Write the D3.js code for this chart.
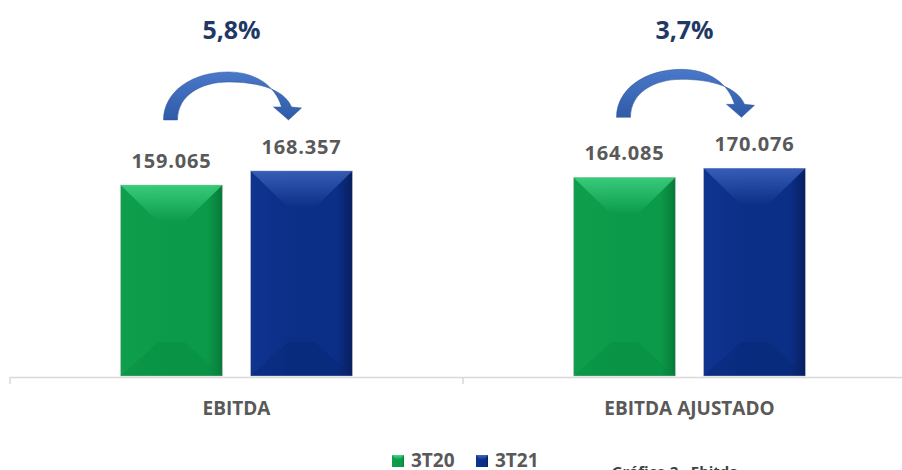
<!DOCTYPE html>
<html>
<head>
<meta charset="utf-8">
<script src="https://cdn.jsdelivr.net/npm/d3@7"></script>
<style>
  body { margin: 0; background: #fff; }
  svg { display: block; font-family: "Open Sans", "Liberation Sans", sans-serif; }
</style>
</head>
<body>
<div id="chart"></div>
<script>
// chart data
const categories = ["EBITDA", "EBITDA AJUSTADO"];
const seriesNames = ["3T20", "3T21"];
const values3T20 = [159065, 164085];
const values3T21 = [168357, 170076];
const chartCaption = "Gráfico 2 - Ebitda";

const width = 902, height = 470;

// pt-BR number format
const locale = d3.formatLocale({decimal: ",", thousands: ".", grouping: [3], currency: ["R$", ""]});
const fmtValue = locale.format(",d");
const fmtPct = locale.format(".1%");

const svg = d3.select("#chart").append("svg")
    .attr("width", width)
    .attr("height", height);

const defs = svg.append("defs");

// colours per series: light, main, dark
const palette = {
    "3T20": {top: "#43d787", main: "#0b9a49", side: "#0f9f4c", dark: "#087a39", bottom: "#078a40"},
    "3T21": {top: "#4168c2", main: "#0b2e86", side: "#0f3490", dark: "#081f5f", bottom: "#07266f"}
};

seriesNames.forEach((s, i) => {
    let c = palette[s];
    let g = defs.append("linearGradient").attr("id", "body" + i);
    g.append("stop").attr("offset", "0%").attr("stop-color", c.side);
    g.append("stop").attr("offset", "45%").attr("stop-color", c.main);
    g.append("stop").attr("offset", "85%").attr("stop-color", c.main);
    g.append("stop").attr("offset", "100%").attr("stop-color", c.dark);

    let t = defs.append("linearGradient").attr("id", "top" + i)
        .attr("x1", 0).attr("y1", 0).attr("x2", 0).attr("y2", 1);
    t.append("stop").attr("offset", "0%").attr("stop-color", c.top);
    t.append("stop").attr("offset", "100%").attr("stop-color", c.main);
});

let ag = defs.append("linearGradient").attr("id", "arrowGrad")
    .attr("x1", 0).attr("y1", 0).attr("x2", 0).attr("y2", 1);
ag.append("stop").attr("offset", "0%").attr("stop-color", "#4a78c9");
ag.append("stop").attr("offset", "100%").attr("stop-color", "#2f5ba8");

// scales
const x = d3.scaleBand()
    .domain(categories)
    .range([10, 916])
    .padding(0);

const xSeries = d3.scaleBand()
    .domain(seriesNames)
    .range([110.5, 342.5])
    .paddingInner(0.2154)
    .paddingOuter(0);

const y = d3.scaleLinear()
    .domain([33000, 268000])
    .range([376, 20]);

const baseY = y.range()[0];

// axis line + ticks
const axis = svg.append("g").attr("class", "x-axis");
axis.append("line")
    .attr("x1", 10).attr("x2", width)
    .attr("y1", baseY + 1.5).attr("y2", baseY + 1.5)
    .attr("stroke", "#d9d9d9").attr("stroke-width", 1.5);
axis.selectAll(".tick")
    .data(categories)
    .enter().append("line")
    .attr("class", "tick")
    .attr("x1", d => x(d)).attr("x2", d => x(d))
    .attr("y1", baseY + 1).attr("y2", baseY + 8)
    .attr("stroke", "#d9d9d9").attr("stroke-width", 1.5);

axis.selectAll(".cat-label")
    .data(categories)
    .enter().append("text")
    .attr("class", "cat-label")
    .attr("x", d => x(d) + x.bandwidth() / 2)
    .attr("y", 415)
    .attr("text-anchor", "middle")
    .attr("font-size", 19)
    .attr("font-weight", "bold")
    .attr("fill", "#595959")
    .text(d => d);

// bars
const rows = categories.map((c, i) => ({category: c, values: [values3T20[i], values3T21[i]]}));

const groups = svg.selectAll(".group")
    .data(rows)
    .enter().append("g")
    .attr("class", "group")
    .attr("transform", d => `translate(${x(d.category)}, 0)`);

const bw = xSeries.bandwidth();
const inset = 38, depthTop = 37, depthBottom = 34;

const bars = groups.selectAll(".bar")
    .data(d => d.values.map((v, i) => ({series: seriesNames[i], idx: i, value: v})))
    .enter().append("g")
    .attr("class", "bar")
    .attr("transform", d => `translate(${xSeries(d.series)}, ${y(d.value)})`);

bars.append("rect")
    .attr("width", bw)
    .attr("height", d => baseY - y(d.value))
    .attr("fill", d => `url(#body${d.idx})`)
    .attr("stroke", "#c8c8c8")
    .attr("stroke-width", 0.6);

// top bevel
bars.append("path")
    .attr("d", `M0,0 L${bw},0 L${bw - inset},${depthTop} L${inset},${depthTop} Z`)
    .attr("fill", d => `url(#top${d.idx})`)
    .attr("opacity", 0.8);

// bottom bevel
bars.append("path")
    .attr("d", d => {
        let h = baseY - y(d.value);
        return `M0,${h} L${bw},${h} L${bw - inset},${h - depthBottom} L${inset},${h - depthBottom} Z`;
    })
    .attr("fill", d => palette[d.series].bottom)
    .attr("opacity", 0.35);

// value labels
bars.append("text")
    .attr("x", bw / 2)
    .attr("y", -17)
    .attr("text-anchor", "middle")
    .attr("font-size", 20)
    .attr("font-weight", "bold")
    .attr("letter-spacing", 0.8)
    .attr("fill", "#595959")
    .text(d => fmtValue(d.value));

// curved arrows and growth labels
const arrowPath = "M0,0 C0,-28 28,-48 65,-48 C92,-48 112,-34 118,-13 L110,-13 L125,0 L138,-12 L128,-13 " +
    "C121,-30 96,-38 65,-38 C38,-38 14,-25 14,0 Z";

groups.append("path")
    .attr("class", "arrow")
    .attr("d", arrowPath)
    .attr("fill", "url(#arrowGrad)")
    .attr("stroke", "#2f5597")
    .attr("stroke-width", 0.5)
    .attr("transform", d => `translate(${x.bandwidth() / 2 - 73}, ${y(d3.max(d.values)) - 51})`);

groups.append("text")
    .attr("class", "growth")
    .attr("x", x.bandwidth() / 2 - 5)
    .attr("y", 39)
    .attr("text-anchor", "middle")
    .attr("font-size", 25)
    .attr("font-weight", "bold")
    .attr("fill", "#1f3864")
    .text(d => fmtPct(d.values[1] / d.values[0] - 1));

// legend
const legend = svg.append("g").attr("class", "legend")
    .attr("transform", "translate(392, 452)");

const legItems = legend.selectAll(".leg")
    .data(seriesNames)
    .enter().append("g")
    .attr("class", "leg")
    .attr("transform", (d, i) => `translate(${i * 84}, 0)`);

legItems.append("rect")
    .attr("y", 3)
    .attr("width", 12).attr("height", 12)
    .attr("fill", (d, i) => `url(#body${i})`);
legItems.append("path")
    .attr("d", "M0,3 L12,3 L8,8 L4,8 Z")
    .attr("fill", (d, i) => `url(#top${i})`);

legItems.append("text")
    .attr("x", 19)
    .attr("y", 15)
    .attr("font-size", 19)
    .attr("font-weight", "bold")
    .attr("fill", "#595959")
    .text(d => d);

// caption (cut by the bottom edge, as in the source)
svg.append("text")
    .attr("x", 675)
    .attr("y", 477)
    .attr("text-anchor", "middle")
    .attr("font-size", 15)
    .attr("font-weight", "bold")
    .attr("fill", "#404040")
    .text(chartCaption);
</script>
</body>
</html>
